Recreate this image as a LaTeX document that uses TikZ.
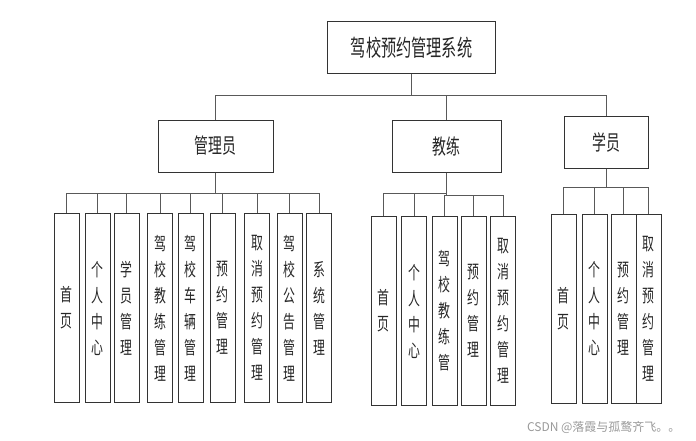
\documentclass[tikz,border=0pt]{standalone}
\usepackage{fontspec}
\newfontfamily\cjk[FakeStretch=0.66]{Noto Sans CJK SC}
\newfontfamily\cjkmark{Noto Sans CJK SC}
\tikzset{
  box/.style={draw=black!80,line width=1pt,rectangle,inner sep=0pt,text=black!85},
  topbox/.style={box,minimum width=168pt,minimum height=52pt,font=\cjk\fontsize{23}{26}\selectfont},
  rolebox/.style={box,minimum height=52pt,font=\cjk\fontsize{21}{24}\selectfont},
  leaf/.style={box,minimum width=25pt,minimum height=189pt,align=center,font=\cjk\fontsize{18}{26}\selectfont},
  link/.style={draw=black!65,line width=1pt},
}
\begin{document}
\begin{tikzpicture}[x=1pt,y=-1pt]
        \useasboundingbox (0,0) rectangle (696,440);
        % Define the nodes for system and roles
        \node[topbox]                       (sys)   at (411.6,47.8) {驾校预约管理系统};
        \node[rolebox,minimum width=115pt]  (admin) at (215.5,146)  {管理员};
        \node[rolebox,minimum width=109pt]  (coach) at (446.5,146)  {教练};
        \node[rolebox,minimum width=84pt]   (stu)   at (606,142)    {学员};
        % Define the nodes for admin functions
        \node[leaf] (a1) at (66.8,308)  {首\\页};
        \node[leaf] (a2) at (97.5,308)  {个\\人\\中\\心};
        \node[leaf] (a3) at (126.5,308) {学\\员\\管\\理};
        \node[leaf] (a4) at (160.2,308) {驾\\校\\教\\练\\管\\理};
        \node[leaf] (a5) at (190.5,308) {驾\\校\\车\\辆\\管\\理};
        \node[leaf] (a6) at (222.5,308) {预\\约\\管\\理};
        \node[leaf] (a7) at (257.2,308) {取\\消\\预\\约\\管\\理};
        \node[leaf] (a8) at (289.5,308) {驾\\校\\公\\告\\管\\理};
        \node[leaf] (a9) at (319.2,308) {系\\统\\管\\理};
        % Define the nodes for coach functions
        \node[leaf] (c1) at (383.5,311) {首\\页};
        \node[leaf] (c2) at (414.2,311) {个\\人\\中\\心};
        \node[leaf] (c3) at (444.5,311) {驾\\校\\教\\练\\管};
        \node[leaf] (c4) at (473.5,311) {预\\约\\管\\理};
        \node[leaf] (c5) at (503.2,311) {取\\消\\预\\约\\管\\理};
        % Define the nodes for student functions
        \node[leaf] (s1) at (563.5,308.5) {首\\页};
        \node[leaf] (s2) at (594.5,308.5) {个\\人\\中\\心};
        \node[leaf] (s3) at (623.5,308.5) {预\\约\\管\\理};
        \node[leaf] (s4) at (648.5,308.5) {取\\消\\预\\约\\管\\理};
        \node[text=black!40,font=\cjkmark\fontsize{12}{14}\selectfont,anchor=east] (mark) at (684,427) {CSDN @落霞与孤鹜齐飞。。};
        % Connect system and roles
        \draw[link] (sys.south) -- ++(0,21) -| (admin.north);
        \draw[link] (sys.south) -- ++(0,21) -| (coach.north);
        \draw[link] (sys.south) -- ++(0,21) -| (stu.north);
        % Connect roles and functions
        \draw[link,line width=1.6pt,draw=black] (admin.south) -- ++(0,21);
        \draw[link] (admin.south) -- ++(0,21) -| (a1.north);
        \draw[link] (admin.south) -- ++(0,21) -| (a2.north);
        \draw[link] (admin.south) -- ++(0,21) -| (a3.north);
        \draw[link] (admin.south) -- ++(0,21) -| (a4.north);
        \draw[link] (admin.south) -- ++(0,21) -| (a5.north);
        \draw[link] (admin.south) -- ++(0,21) -| (a6.north);
        \draw[link] (admin.south) -- ++(0,21) -| (a7.north);
        \draw[link] (admin.south) -- ++(0,21) -| (a8.north);
        \draw[link] (admin.south) -- ++(0,21) -| (a9.north);
        \draw[link] (coach.south) -- ++(0,21) -| (c1.north);
        \draw[link] (coach.south) -- ++(0,21) -| (c2.north);
        \draw[link] (coach.south) -- ++(0,23) -| (c3.north);
        \draw[link] (coach.south) -- ++(0,23) -| (c4.north);
        \draw[link] (coach.south) -- ++(0,23) -| (c5.north);
        \draw[link] (stu.south) -- ++(0,19) -| (s1.north);
        \draw[link] (stu.south) -- ++(0,19) -| (s2.north);
        \draw[link] (stu.south) -- ++(0,19) -| (s3.north);
        \draw[link] (stu.south) -- ++(0,19) -| (s4.north);
\end{tikzpicture}
\end{document}
